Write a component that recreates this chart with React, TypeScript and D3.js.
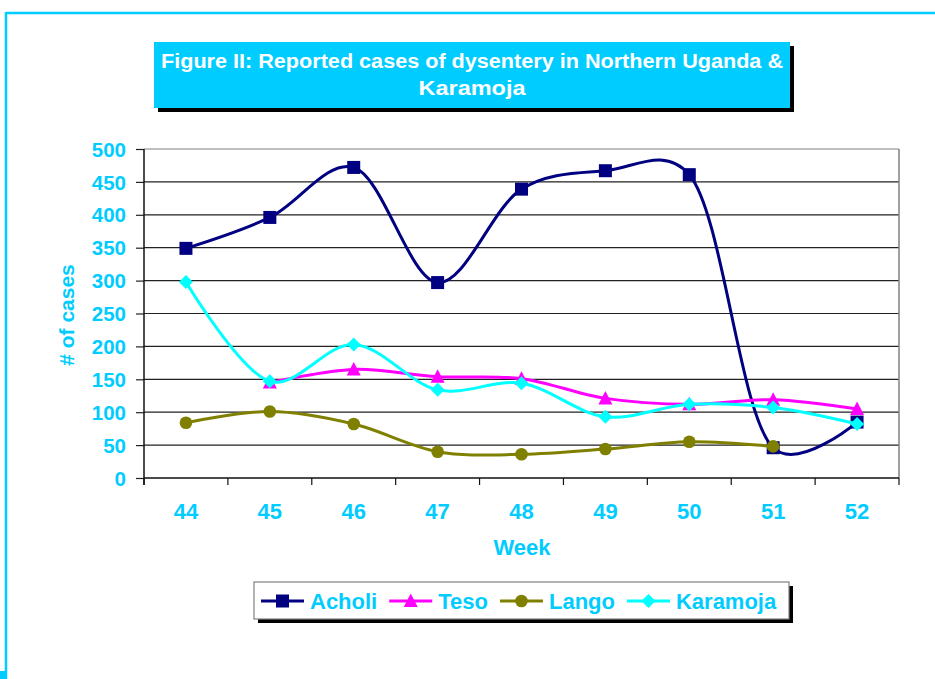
import React, { useEffect, useRef } from 'react';
import * as d3 from 'd3';

// chart values
const weeks = ['44', '45', '46', '47', '48', '49', '50', '51', '52'];
const acholi = [349, 396, 472, 297, 439, 467, 461, 46, 85];
const teso = [null, 145, 165, 154, 151, 121, 112, 119, 105];
const lango = [84, 101, 82, 40, 36, 44, 55, 48, null];
const karamoja = [298, 147, 203, 134, 144, 93, 112, 107, 82];
const seriesNames = ['Acholi', 'Teso', 'Lango', 'Karamoja'];
const seriesColors = ['#000080', '#FF00FF', '#808000', '#00FFFF'];
const yTicks = [0, 50, 100, 150, 200, 250, 300, 350, 400, 450, 500];

const FONT = '"Liberation Sans", Arial, sans-serif';
const CYAN = '#00CCFF';

type Marker = 'square' | 'triangle' | 'circle' | 'diamond';
const markers: Marker[] = ['square', 'triangle', 'circle', 'diamond'];

function drawMarker(g: any, kind: Marker, color: string, x: number, y: number) {
  if (kind === 'square') {
    g.append('rect').attr('x', x - 6.5).attr('y', y - 6.5).attr('width', 13).attr('height', 13).attr('fill', color);
  } else if (kind === 'triangle') {
    g.append('path').attr('d', `M${x},${y - 7.5}L${x + 7},${y + 6}L${x - 7},${y + 6}Z`).attr('fill', color);
  } else if (kind === 'circle') {
    g.append('circle').attr('cx', x).attr('cy', y).attr('r', 6.3).attr('fill', color);
  } else {
    g.append('path').attr('d', `M${x},${y - 7}L${x + 7},${y}L${x},${y + 7}L${x - 7},${y}Z`).attr('fill', color);
  }
}

const App = () => {
  const svgRef = useRef<SVGSVGElement>(null);

  useEffect(() => {
    const svg = d3.select(svgRef.current);
    svg.selectAll('*').remove();

    const W = 935, H = 679;
    const plot = { left: 144, right: 899, top: 149, bottom: 478 };

    // outer frame
    svg.append('rect').attr('width', W).attr('height', H).attr('fill', '#fff');
    svg.append('line').attr('x1', 6).attr('x2', W).attr('y1', 13).attr('y2', 13)
      .attr('stroke', CYAN).attr('stroke-width', 2.5);
    svg.append('line').attr('x1', 6).attr('x2', 6).attr('y1', 12).attr('y2', H)
      .attr('stroke', CYAN).attr('stroke-width', 2.5);
    svg.append('rect').attr('x', 0).attr('y', 671).attr('width', 7).attr('height', 8).attr('fill', CYAN);

    // title box
    svg.append('rect').attr('x', 158).attr('y', 46).attr('width', 636).attr('height', 66).attr('fill', '#000');
    svg.append('rect').attr('x', 154).attr('y', 42).attr('width', 636).attr('height', 66).attr('fill', CYAN);
    svg.append('text').attr('x', 472).attr('y', 68).attr('text-anchor', 'middle')
      .attr('font-family', FONT).attr('font-weight', 'bold').attr('font-size', 20)
      .attr('fill', '#fff').attr('textLength', 622).attr('lengthAdjust', 'spacingAndGlyphs')
      .text('Figure II: Reported cases of dysentery in Northern Uganda &');
    svg.append('text').attr('x', 472).attr('y', 95).attr('text-anchor', 'middle')
      .attr('font-family', FONT).attr('font-weight', 'bold').attr('font-size', 20)
      .attr('fill', '#fff').attr('textLength', 107).attr('lengthAdjust', 'spacingAndGlyphs')
      .text('Karamoja');

    // scales
    const x = d3.scaleBand().domain(weeks).range([plot.left, plot.right]);
    const cx = (w: string) => (x(w) as number) + x.bandwidth() / 2;
    const y = d3.scaleLinear().domain([0, 500]).range([plot.bottom, plot.top]);

    // gridlines
    svg.append('g').selectAll('line').data(yTicks.slice(1)).enter().append('line')
      .attr('x1', plot.left).attr('x2', plot.right)
      .attr('y1', d => y(d)).attr('y2', d => y(d))
      .attr('stroke', d => (d === 500 ? '#808080' : '#222')).attr('stroke-width', 1.2);
    svg.append('line').attr('x1', plot.right).attr('x2', plot.right)
      .attr('y1', plot.top).attr('y2', plot.bottom).attr('stroke', '#808080').attr('stroke-width', 1.5);

    // y axis
    const yAxis = svg.append('g').attr('transform', `translate(${plot.left},0)`)
      .call(d3.axisLeft(y).tickValues(yTicks).tickSize(8).tickPadding(10).tickSizeOuter(0));
    yAxis.select('.domain').remove();
    yAxis.selectAll('line').attr('stroke', '#222').attr('stroke-width', 1.2);
    yAxis.selectAll('text').attr('font-family', FONT).attr('font-weight', 'bold')
      .attr('font-size', 20.5).attr('fill', CYAN).attr('dy', '0.35em');
    svg.append('line').attr('x1', plot.left).attr('x2', plot.left)
      .attr('y1', plot.top).attr('y2', plot.bottom + 7).attr('stroke', '#111').attr('stroke-width', 1.5);

    // x axis
    svg.append('line').attr('x1', plot.left).attr('x2', plot.right)
      .attr('y1', plot.bottom).attr('y2', plot.bottom).attr('stroke', '#111').attr('stroke-width', 1.5);
    const bounds = weeks.map(w => x(w) as number).concat([plot.right]);
    svg.append('g').selectAll('line').data(bounds).enter().append('line')
      .attr('x1', d => d).attr('x2', d => d)
      .attr('y1', plot.bottom).attr('y2', plot.bottom + 7)
      .attr('stroke', '#111').attr('stroke-width', 1.2);
    svg.append('g').selectAll('text').data(weeks).enter().append('text')
      .attr('x', d => cx(d)).attr('y', 519).attr('text-anchor', 'middle')
      .attr('font-family', FONT).attr('font-weight', 'bold').attr('font-size', 22)
      .attr('fill', CYAN).text(d => d);

    // axis titles
    svg.append('text').attr('x', 522).attr('y', 555).attr('text-anchor', 'middle')
      .attr('font-family', FONT).attr('font-weight', 'bold').attr('font-size', 22)
      .attr('fill', CYAN).text('Week');
    svg.append('text').attr('transform', 'translate(74,315) rotate(-90)').attr('text-anchor', 'middle')
      .attr('font-family', FONT).attr('font-weight', 'bold').attr('font-size', 21)
      .attr('fill', CYAN).text('# of cases');

    // series (smoothed like Excel)
    const allSeries = [acholi, teso, lango, karamoja];
    const line = d3.line<[string, number | null]>()
      .defined(d => d[1] !== null)
      .x(d => cx(d[0]))
      .y(d => y(d[1] as number))
      .curve(d3.curveCatmullRom.alpha(0.25));

    allSeries.forEach((vals, i) => {
      const pts = weeks.map((w, j) => [w, vals[j]] as [string, number | null]);
      svg.append('path').datum(pts).attr('d', line).attr('fill', 'none')
        .attr('stroke', seriesColors[i]).attr('stroke-width', 3)
        .attr('stroke-linejoin', 'round');
      const mg = svg.append('g');
      pts.forEach(p => {
        if (p[1] !== null) drawMarker(mg, markers[i], seriesColors[i], cx(p[0]), y(p[1]));
      });
    });

    // legend
    svg.append('rect').attr('x', 258).attr('y', 586).attr('width', 535).attr('height', 37).attr('fill', '#000');
    svg.append('rect').attr('x', 254).attr('y', 582).attr('width', 535).attr('height', 37)
      .attr('fill', '#fff').attr('stroke', '#808080').attr('stroke-width', 1.2);
    const lg = svg.append('g');
    let lx = 261;
    seriesNames.forEach((name, i) => {
      lg.append('line').attr('x1', lx).attr('x2', lx + 43).attr('y1', 601).attr('y2', 601)
        .attr('stroke', seriesColors[i]).attr('stroke-width', 3);
      drawMarker(lg, markers[i], seriesColors[i], lx + 21.5, 601);
      const t = lg.append('text').attr('x', lx + 49).attr('y', 609)
        .attr('font-family', FONT).attr('font-weight', 'bold').attr('font-size', 22)
        .attr('fill', CYAN).text(name);
      const tw = (t.node() as SVGTextElement).getComputedTextLength();
      lx = lx + 49 + tw + 12;
    });
  }, []);

  return (
    <svg ref={svgRef} width={935} height={679}
      style={{ position: 'absolute', left: 0, top: 0, display: 'block' }} />
  );
};

export default App;
